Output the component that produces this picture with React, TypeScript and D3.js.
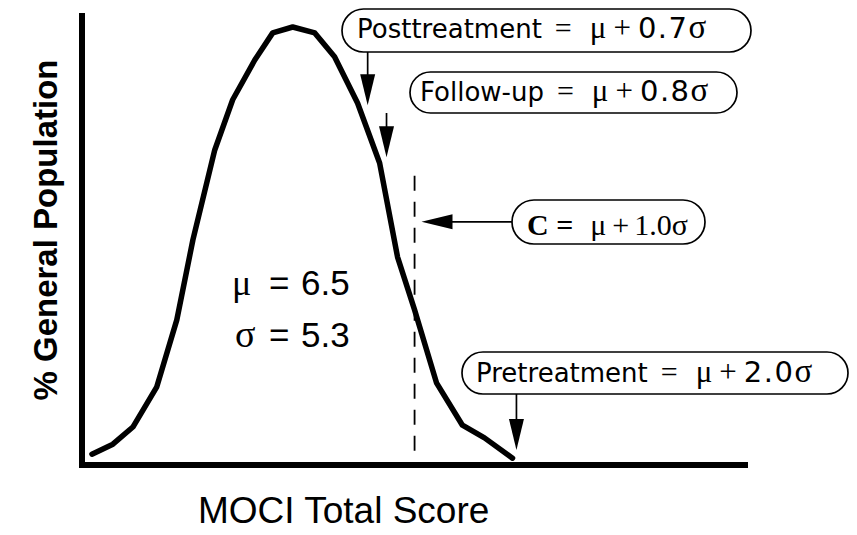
import React from "react";
import * as d3 from "d3";

// Curve vertices (MOCI total score, % of general population)
const scores = [-2.23, -1.32, -0.45, 0.59, 1.46, 2.16, 3.11, 3.89, 4.85, 5.63, 6.5, 7.46, 8.32, 9.32, 10.28, 11.06, 11.8, 12.76, 13.88, 14.84, 16.06];
const percents = [2.4, 4.6, 8.4, 17.3, 32.1, 49.8, 69.7, 80.8, 89.6, 95.6, 96.9, 95.6, 90.3, 80.1, 66.8, 46.0, 34.3, 18.1, 8.8, 6.0, 1.5];

const meanLabel = "6.5";
const sdLabel = "5.3";
const cutoffScore = 11.8;
const cutoffExtent = [1.5, 64];

const annLabels = ["Posttreatment", "Follow-up", "Pretreatment"];
const annMultipliers = ["0.7", "0.8", "2.0"];
const annArrowScores = [9.76, 10.58, 16.23];
const annArrowTips = [79.6, 68.1, 3.3];
const cutoffLabel = "C =";
const cutoffMultiplier = "1.0";
const cutoffArrowPercent = 53.8;
const cutoffArrowTipScore = 12.1;

const xDomain = [-2.75, 26.3];
const yDomain = [0, 100];

const W = 857;
const H = 535;

export default function App() {
  const x = d3.scaleLinear().domain(xDomain).range([80, 748]);
  const y = d3.scaleLinear().domain(yDomain).range([465, 13]);
  const pts: [number, number][] = scores.map((s, i) => [s, percents[i]]);
  const line = d3
    .line<[number, number]>()
    .x((d) => x(d[0]))
    .y((d) => y(d[1]));

  const sans = "'DejaVu Sans', Verdana, sans-serif";
  const serif = "'Liberation Serif', 'Times New Roman', serif";
  const helv = "'Liberation Sans', Arial, Helvetica, sans-serif";

  const boxes = [
    { bx: 342, by: 9, bw: 409, bh: 43, tx: 357, ty: 38, arrowFromY: 52 },
    { bx: 410, by: 72, bw: 327, bh: 41, tx: 420, ty: 101, arrowFromY: 113 },
    { bx: 462, by: 352, bw: 386, bh: 42, tx: 476, ty: 382, arrowFromY: 394 },
  ];

  const arrowDown = (ax: number, tipY: number, fromY: number, key: string) => (
    <g key={key}>
      <line x1={ax} y1={fromY} x2={ax} y2={tipY - 26} stroke="#000" strokeWidth={1.7} />
      <polygon points={`${ax - 7.5},${tipY - 31} ${ax + 7.5},${tipY - 31} ${ax},${tipY}`} fill="#000" />
    </g>
  );

  const cy = y(cutoffArrowPercent);
  const cTip = x(cutoffArrowTipScore);

  return (
    <svg width={W} height={H} style={{ position: "absolute", left: 0, top: 0, background: "#fff" }}>
      <rect x={0} y={0} width={W} height={H} fill="#fff" />
      {/* axes */}
      <line x1={x(xDomain[0]) + 2} y1={13} x2={x(xDomain[0]) + 2} y2={468} stroke="#000" strokeWidth={6} />
      <line x1={79} y1={y(0)} x2={x(xDomain[1])} y2={y(0)} stroke="#000" strokeWidth={6} />

      {/* cutoff dashed line */}
      <line
        x1={x(cutoffScore)}
        x2={x(cutoffScore)}
        y1={y(cutoffExtent[1])}
        y2={y(cutoffExtent[0])}
        stroke="#000"
        strokeWidth={1.8}
        strokeDasharray="15 11"
      />

      {/* curve */}
      <path d={line(pts) || ""} fill="none" stroke="#000" strokeWidth={5.5} strokeLinejoin="round" strokeLinecap="round" />

      {/* μ and σ */}
      <text y={295} fontFamily={helv} fontSize={35}>
        <tspan x={232} fontFamily={serif} fontSize={36}>μ</tspan>
        <tspan x={269}>=</tspan>
        <tspan x={301}>{meanLabel}</tspan>
      </text>
      <text y={347} fontFamily={helv} fontSize={35}>
        <tspan x={235} fontFamily={serif} fontSize={38}>σ</tspan>
        <tspan x={269}>=</tspan>
        <tspan x={301}>{sdLabel}</tspan>
      </text>

      {/* annotation boxes */}
      {boxes.map((b, i) => (
        <g key={i}>
          <rect x={b.bx} y={b.by} width={b.bw} height={b.bh} rx={b.bh / 2} fill="#fff" stroke="#000" strokeWidth={1.7} />
          <text x={b.tx} y={b.ty} fontFamily={sans} fontSize={26}>
            {annLabels[i]}
            <tspan dx={13} fontFamily={serif} fontSize={30}>=</tspan>
            <tspan dx={18} fontFamily={serif} fontSize={31}>μ</tspan>
            <tspan dx={7} fontFamily={serif} fontSize={31}>+</tspan>
            <tspan dx={7} fontSize={29} letterSpacing={1.5}>{annMultipliers[i]}</tspan>
            <tspan dx={0} fontFamily={serif} fontSize={33}>σ</tspan>
          </text>
          {arrowDown(x(annArrowScores[i]), y(annArrowTips[i]), b.arrowFromY, "a" + i)}
        </g>
      ))}

      {/* cutoff box */}
      <rect x={512} y={200} width={193} height={44} rx={22} fill="#fff" stroke="#000" strokeWidth={1.7} />
      <text x={527} y={235} fontFamily={serif} fontSize={30}>
        <tspan fontWeight="bold">{cutoffLabel}</tspan>
        <tspan dx={17}>μ</tspan>
        <tspan dx={6}>+</tspan>
        <tspan dx={5}>{cutoffMultiplier}σ</tspan>
      </text>
      <line x1={512} y1={cy} x2={cTip + 26} y2={cy} stroke="#000" strokeWidth={1.7} />
      <polygon points={`${cTip},${cy} ${cTip + 31},${cy - 7.5} ${cTip + 31},${cy + 7.5}`} fill="#000" />

      {/* axis titles */}
      <text x={198} y={523} fontFamily={helv} fontSize={37}>MOCI Total Score</text>
      <text
        transform={`translate(57,230) rotate(-90)`}
        textAnchor="middle"
        fontFamily={helv}
        fontWeight="bold"
        fontSize={33}
      >
        % General Population
      </text>
    </svg>
  );
}
